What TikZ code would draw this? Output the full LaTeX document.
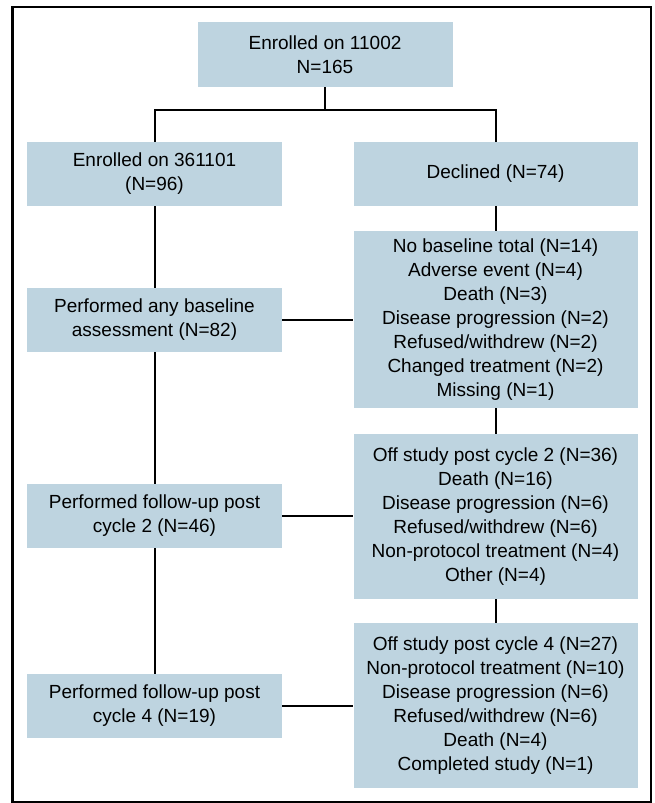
\documentclass[tikz,border=0pt]{standalone}
\usepackage{fontspec}
\setmainfont{Liberation Sans}
\usepackage{xcolor}
\usepackage{tikz}
\usetikzlibrary{positioning,calc}

\definecolor{boxblue}{RGB}{190,212,224}

\tikzset{
    stage/.style={fill=boxblue, inner sep=0pt, align=center,
        font=\fontsize{19}{24}\selectfont, minimum height=64pt},
    leftbox/.style={stage, minimum width=255pt},
    rightbox/.style={stage, minimum width=284pt},
    link/.style={draw=black, line width=2pt}
}

\begin{document}
\begin{tikzpicture}[x=1pt, y=-1pt]
    \useasboundingbox (0,0) rectangle (654,803);

    % Outer frame
    \draw[line width=2.2pt] (12.5,7) rectangle (651,802);

    % Top box
    \node[leftbox, minimum height=65pt] (enrol) at (325,54.5) {Enrolled on 11002\\N=165};

    % Left column
    \node[leftbox] (study) at (154.5,174) {Enrolled on 361101\\(N=96)};
    \node[leftbox] (base) at (154.5,320) {Performed any baseline\\assessment (N=82)};
    \node[leftbox] (cyctwo) at (154.5,516) {Performed follow-up post\\cycle 2 (N=46)};
    \node[leftbox] (cycfour) at (154.5,706) {Performed follow-up post\\cycle 4 (N=19)};

    % Right column
    \node[rightbox] (declined) at (495.5,174) {Declined (N=74)};
    \node[rightbox, minimum height=177pt] (nobase) at (495.5,319.5) {No baseline total (N=14)\\Adverse event (N=4)\\Death (N=3)\\Disease progression (N=2)\\Refused/withdrew (N=2)\\Changed treatment (N=2)\\Missing (N=1)};
    \node[rightbox, minimum height=165pt] (offtwo) at (495.5,516.5) {Off study post cycle 2 (N=36)\\Death (N=16)\\Disease progression (N=6)\\Refused/withdrew (N=6)\\Non-protocol treatment (N=4)\\Other (N=4)};
    \node[rightbox, minimum height=165pt] (offfour) at (495.5,705.5) {Off study post cycle 4 (N=27)\\Non-protocol treatment (N=10)\\Disease progression (N=6)\\Refused/withdrew (N=6)\\Death (N=4)\\Completed study (N=1)};

    % Split
    \coordinate (split) at (325,110);
    \draw[link] (enrol.south) -- (split);
    \draw[link] (study.north) |- (split) -| (declined.north);

    % Verticals
    \draw[link] (study) -- (base);
    \draw[link] (base) -- (cyctwo);
    \draw[link] (cyctwo) -- (cycfour);
    \draw[link] (declined) -- (nobase);
    \draw[link] (nobase) -- (offtwo);
    \draw[link] (offtwo) -- (offfour);

    % Horizontals
    \draw[link] (base.east) -- (base.east -| nobase.west);
    \draw[link] (cyctwo.east) -- (cyctwo.east -| offtwo.west);
    \draw[link] (cycfour.east) -- (cycfour.east -| offfour.west);
\end{tikzpicture}
\end{document}
